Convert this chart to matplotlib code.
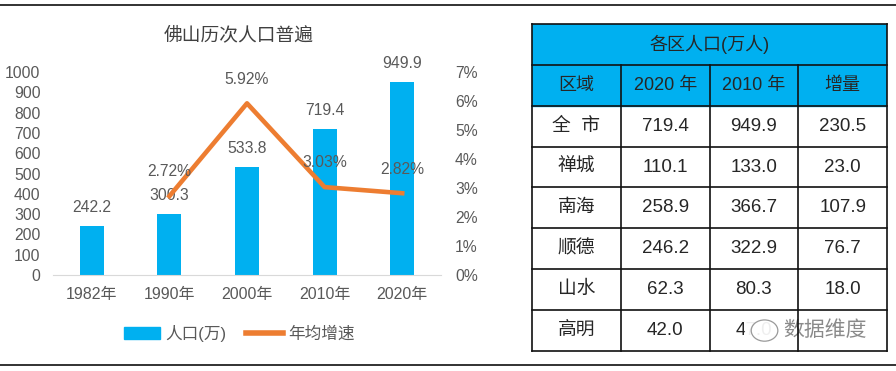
import matplotlib
matplotlib.use("Agg")
import matplotlib.pyplot as plt
from matplotlib.patches import Rectangle, Patch, Ellipse
from matplotlib.lines import Line2D
from matplotlib.ticker import PercentFormatter

plt.rcParams['font.family'] = ['Liberation Sans', 'Noto Sans CJK SC', 'DejaVu Sans']

# chart data
years = ["1982年", "1990年", "2000年", "2010年", "2020年"]
population = [242.2, 300.3, 533.8, 719.4, 949.9]
growth = [2.72, 5.92, 3.03, 2.82]  # % per year, from 1990 on

# table data (last increment cell is hidden under the watermark)
table_title = "各区人口(万人)"
table_header = ["区域", "2020 年", "2010 年", "增量"]
districts = ["全  市", "禅城", "南海", "顺德", "山水", "高明"]
col_2020 = ["719.4", "110.1", "258.9", "246.2", "62.3", "42.0"]
col_2010 = ["949.9", "133.0", "366.7", "322.9", "80.3", "47.0"]
col_inc = ["230.5", "23.0", "107.9", "76.7", "18.0", ""]

W, H = 896, 371
fig = plt.figure(figsize=(W / 100, H / 100), dpi=100)

blue = '#00B0F0'
orange = '#ED7D31'
gray = '#595959'

# frame lines top / bottom
fig.add_artist(Line2D([0, 1], [1 - 5 / H, 1 - 5 / H], color='#222222', lw=1.3))
fig.add_artist(Line2D([0, 1], [1 - 365 / H, 1 - 365 / H], color='#222222', lw=1.3))

# ---- bar + line chart ----
ax = fig.add_axes([53 / W, 1 - 275 / H, (441 - 53) / W, (275 - 72) / H])
x = list(range(len(years)))
ax.bar(x, population, width=0.31, color=blue, zorder=2)
ax.set_xlim(-0.5, 4.5)
ax.set_ylim(0, 1000)
ax.set_yticks(range(0, 1001, 100))
ax.set_xticks(x)
ax.set_xticklabels(years)
for s in ['top', 'right', 'left']:
    ax.spines[s].set_visible(False)
ax.spines['bottom'].set_color('#D9D9D9')
ax.tick_params(axis='y', length=0, pad=9, labelsize=11.3, labelcolor=gray)
ax.tick_params(axis='x', length=0, pad=9, labelsize=11.5, labelcolor=gray)
for xi, v in zip(x, population):
    ax.annotate(f"{v:.1f}", (xi, v), xytext=(0, 8), textcoords='offset points',
                ha='center', va='bottom', fontsize=11.3, color=gray)

ax2 = ax.twinx()
ax2.set_ylim(0, 7)
ax2.set_yticks(range(0, 8))
ax2.yaxis.set_major_formatter(PercentFormatter(decimals=0))
for s in ['top', 'right', 'left', 'bottom']:
    ax2.spines[s].set_visible(False)
ax2.tick_params(axis='y', length=0, pad=10, labelsize=11.3, labelcolor=gray)
ax2.plot(x[1:], growth, color=orange, lw=3.3, zorder=3)
for xi, v in zip(x[1:], growth):
    ax2.annotate(f"{v:.2f}%", (xi, v), xytext=(0, 12), textcoords='offset points',
                 ha='center', va='bottom', fontsize=11.3, color=gray)

fig.text(239 / W, 1 - 35 / H, "佛山历次人口普遍", ha='center', va='center',
         fontsize=13.5, color='#404040')

handles = [Patch(color=blue), Line2D([], [], color=orange, lw=4)]
fig.legend(handles, ["人口(万)", "年均增速"], loc='center', bbox_to_anchor=(239 / W, 1 - 333 / H),
           ncol=2, frameon=False, fontsize=12, labelcolor=gray, handlelength=2.2,
           handletextpad=0.3, columnspacing=1.2)

# ---- table ----
axt = fig.add_axes([532 / W, 1 - 351 / H, 355 / W, 327 / H])
axt.set_xlim(0, 4)
axt.set_ylim(8, 0)
axt.axis('off')
axt.add_patch(Rectangle((0, 0), 4, 2, color=blue, zorder=1))
txt = '#262626'
axt.text(2, 0.5, table_title, ha='center', va='center', fontsize=13, color=txt)
for j, h in enumerate(table_header):
    axt.text(j + 0.5, 1.5, h, ha='center', va='center', fontsize=13, color=txt)
for i in range(len(districts)):
    row = [districts[i], col_2020[i], col_2010[i], col_inc[i]]
    for j, val in enumerate(row):
        if val:
            axt.text(j + 0.5, i + 2.5, val, ha='center', va='center', fontsize=13.5,
                     color=txt, zorder=2)

# watermark
axt.add_patch(Rectangle((2.4, 7.08), 1.45, 0.84, color='white', alpha=0.93, zorder=3))
axt.add_patch(Ellipse((2.62, 7.5), 0.3, 0.52, fill=False, ec='#9a9a9a', lw=0.9, zorder=4))
axt.text(3.3, 7.5, "数据维度", ha='center', va='center', fontsize=15, color='#8a8a8a', zorder=4)

lc = '#111111'
for r in range(9):
    axt.plot([0, 4], [r, r], color=lc, lw=1.2, zorder=5, clip_on=False)
for c in range(5):
    top = 0 if c in (0, 4) else 1
    axt.plot([c, c], [top, 8], color=lc, lw=1.2, zorder=5, clip_on=False)

fig.savefig("out.png", dpi=100)
